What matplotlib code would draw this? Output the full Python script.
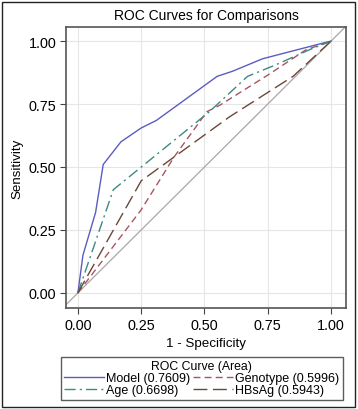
import matplotlib
matplotlib.use("Agg")
import matplotlib.pyplot as plt
from matplotlib.patches import Rectangle

plt.rcParams['font.family'] = ['Liberation Sans', 'DejaVu Sans']

# ROC curve points: (1 - specificity, sensitivity)
model_x = [0.0, 0.02, 0.07, 0.10, 0.17, 0.25, 0.31, 0.55, 0.61, 0.73, 0.96, 1.0]
model_y = [0.0, 0.15, 0.32, 0.51, 0.60, 0.655, 0.685, 0.86, 0.88, 0.93, 0.99, 1.0]

geno_x = [0.0, 0.25, 0.38, 0.51, 0.56, 0.75, 0.90, 1.0]
geno_y = [0.0, 0.33, 0.54, 0.72, 0.745, 0.865, 0.965, 1.0]

age_x = [0.0, 0.14, 0.52, 0.67, 0.78, 0.92, 1.0]
age_y = [0.0, 0.41, 0.72, 0.86, 0.905, 0.968, 1.0]

hbs_x = [0.0, 0.25, 0.60, 0.85, 1.0]
hbs_y = [0.0, 0.445, 0.70, 0.86, 1.0]

names = ['Model', 'Genotype', 'Age', 'HBsAg']
areas = [0.7609, 0.5996, 0.6698, 0.5943]

ticks = [0.0, 0.25, 0.5, 0.75, 1.0]
tick_labels = ['0.00', '0.25', '0.50', '0.75', '1.00']

fig = plt.figure(figsize=(3.58, 4.10), dpi=100)
ax = fig.add_axes([66/358, 1 - 309/410, 280/358, 281/410])

# grey chance diagonal, drawn past the axes edges
ax.plot([-0.2, 1.2], [-0.2, 1.2], color='#a8a8a8', lw=0.9, zorder=1)

l1, = ax.plot(model_x, model_y, color='#5c5cc0', lw=1.0, ls='-', zorder=3)
l2, = ax.plot(geno_x, geno_y, color='#a85560', lw=1.0, ls=(0, (5, 3)), zorder=3)
l3, = ax.plot(age_x, age_y, color='#3c8a82', lw=1.0, ls=(0, (8, 3, 1.5, 3)), zorder=3)
l4, = ax.plot(hbs_x, hbs_y, color='#6a4838', lw=1.0, ls=(0, (10, 4)), zorder=3)

ax.set_xlim(-0.047, 1.059)
ax.set_ylim(-0.06, 1.056)
ax.set_xticks(ticks)
ax.set_xticklabels(tick_labels)
ax.set_yticks(ticks)
ax.set_yticklabels(tick_labels)
ax.grid(True, color='#e6e6e6', lw=0.8, zorder=0)
ax.set_axisbelow(True)
ax.tick_params(labelsize=10.4, length=4, width=0.8, color='#444444', pad=3)
for s in ax.spines.values():
    s.set_color('#555555')
    s.set_linewidth(1.2)

ax.set_title('ROC Curves for Comparisons', fontsize=10, pad=6)
ax.set_xlabel('1 - Specificity', fontsize=9.6, labelpad=4)
ax.set_ylabel('Sensitivity', fontsize=9.6, labelpad=4)

labels = ['%s (%.4f)' % (n, a) for n, a in zip(names, areas)]
leg = fig.legend([l1, l3, l2, l4], [labels[0], labels[2], labels[1], labels[3]],
                 ncol=2, title='ROC Curve (Area)', fontsize=9.0, title_fontsize=8.8,
                 loc='center', bbox_to_anchor=(201.5/358, 1 - 379.5/410),
                 frameon=True, fancybox=False, handlelength=3.2, handletextpad=0.15,
                 columnspacing=0.3, labelspacing=0.0, borderpad=0.25,
                 borderaxespad=0)
leg.get_frame().set_edgecolor('#333333')
leg.get_frame().set_linewidth(1.0)

# outer border of the picture
fig.patches.append(Rectangle((2/358, 2/410), 353/358, 405/410, transform=fig.transFigure,
                             fill=False, edgecolor='#222222', lw=1.0))

fig.savefig('out.png', dpi=100)
